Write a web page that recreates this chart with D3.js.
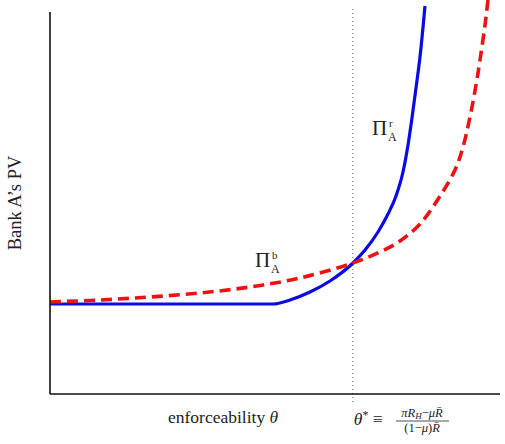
<!DOCTYPE html>
<html>
<head>
<meta charset="utf-8">
<script src="https://cdn.jsdelivr.net/npm/d3@7"></script>
<style>
  body { margin: 0; background: #fff; }
  text { font-family: "Liberation Serif", "Times New Roman", "DejaVu Serif", serif; }
</style>
</head>
<body>
<div id="body"></div>
<script>
// enforceability theta (0..1) and Bank A's PV (0..1)
var thetaStar = 0.673;

var repoTheta = [0, 0.4956, 0.5333, 0.5778, 0.6222, 0.6733, 0.7, 0.7289, 0.7511, 0.7689, 0.7844, 0.7956, 0.8044, 0.8133, 0.8222, 0.8333];
var repoPV = [0.2308, 0.2308, 0.241, 0.2615, 0.2897, 0.3359, 0.3692, 0.4154, 0.4615, 0.5077, 0.5692, 0.6385, 0.7077, 0.7846, 0.8641, 0.9949];

var bondTheta = [0, 0.1111, 0.2222, 0.3333, 0.4444, 0.5556, 0.6733, 0.7333, 0.7778, 0.8222, 0.8667, 0.9, 0.9178, 0.9333, 0.9467, 0.9556, 0.9667, 0.9733];
var bondPV = [0.2359, 0.241, 0.2487, 0.259, 0.2744, 0.2974, 0.3359, 0.3641, 0.3923, 0.4359, 0.5077, 0.5744, 0.6333, 0.7103, 0.7923, 0.8564, 0.9462, 1.0103];

var width = 505;
var height = 444;
var textColor = "#222";

var svg = d3
  .select("#body")
  .append("svg")
  .attr("width", width)
  .attr("height", height);

var xScale = d3.scaleLinear().domain([0, 1]).range([50, 500]);
var yScale = d3.scaleLinear().domain([0, 1]).range([394, 4]);

function makeLine(curve) {
  return d3
    .line()
    .x(function (d) { return xScale(d[0]); })
    .y(function (d) { return yScale(d[1]); })
    .curve(curve);
}

var repo = repoTheta.map(function (t, i) { return [t, repoPV[i]]; });
var bond = bondTheta.map(function (t, i) { return [t, bondPV[i]]; });

// clip to the plot so curves stop at the top edge
svg.append("clipPath").attr("id", "clip")
  .append("rect")
  .attr("x", xScale(0))
  .attr("y", 0)
  .attr("width", xScale(1) - xScale(0))
  .attr("height", yScale(0));

// dotted theta* line
svg.append("line")
  .attr("x1", xScale(thetaStar))
  .attr("x2", xScale(thetaStar))
  .attr("y1", 9)
  .attr("y2", 405)
  .attr("stroke", "#555")
  .attr("stroke-width", 1)
  .attr("stroke-dasharray", "1,3");

var plot = svg.append("g").attr("clip-path", "url(#clip)");

plot.append("path")
  .datum(repo)
  .attr("d", makeLine(d3.curveMonotoneX))
  .attr("fill", "none")
  .attr("stroke", "#0a0ae6")
  .attr("stroke-width", 3.2);

plot.append("path")
  .datum(bond)
  .attr("d", makeLine(d3.curveCatmullRom.alpha(0.5)))
  .attr("fill", "none")
  .attr("stroke", "#ee1111")
  .attr("stroke-width", 3.6)
  .attr("stroke-dasharray", "11,6");

// axes (plain lines, no ticks)
svg.append("line")
  .attr("x1", xScale(0)).attr("x2", xScale(0))
  .attr("y1", 12).attr("y2", yScale(0))
  .attr("stroke", "#111").attr("stroke-width", 1.6);

svg.append("line")
  .attr("x1", xScale(0)).attr("x2", xScale(1))
  .attr("y1", yScale(0)).attr("y2", yScale(0))
  .attr("stroke", "#111").attr("stroke-width", 1.6);

// curve labels: Pi with stacked super/subscript
function piLabel(x, y, sup) {
  svg.append("text")
    .attr("x", x).attr("y", y)
    .attr("font-size", 21)
    .attr("fill", textColor)
    .text("Π");
  svg.append("text")
    .attr("x", x + 17).attr("y", y - 8)
    .attr("font-size", 11)
    .attr("fill", textColor)
    .text(sup);
  svg.append("text")
    .attr("x", x + 16).attr("y", y + 6)
    .attr("font-size", 12)
    .attr("fill", textColor)
    .text("A");
}
piLabel(255, 267, "b");
piLabel(372, 135, "r");

// axis titles
svg.append("text")
  .attr("transform", "translate(21,203) rotate(-90)")
  .attr("text-anchor", "middle")
  .attr("font-size", 18.5)
  .attr("fill", textColor)
  .text("Bank A’s PV");

var xl = svg.append("text")
  .attr("x", 168)
  .attr("y", 423)
  .attr("font-size", 17.5)
  .attr("fill", textColor);
xl.append("tspan").text("enforceability ");
xl.append("tspan").attr("font-style", "italic").text("θ");

// theta* definition
var ts = svg.append("text")
  .attr("x", xScale(thetaStar) + 1)
  .attr("y", 425)
  .attr("font-size", 17.5)
  .attr("fill", textColor);
ts.append("tspan").attr("font-style", "italic").text("θ");
ts.append("tspan").attr("font-size", 12).attr("dy", -6).text("*");
ts.append("tspan").attr("dy", 6).text(" ≡");

var fx = 422;
var num = svg.append("text")
  .attr("x", fx)
  .attr("y", 417)
  .attr("text-anchor", "middle")
  .attr("font-size", 12.5)
  .attr("fill", textColor);
num.append("tspan").attr("font-style", "italic").text("πR");
num.append("tspan").attr("font-style", "italic").attr("font-size", 9).attr("dy", 2).text("H");
num.append("tspan").attr("dy", -2).text("−");
num.append("tspan").attr("font-style", "italic").text("μR̄");

svg.append("line")
  .attr("x1", fx - 26).attr("x2", fx + 27)
  .attr("y1", 421).attr("y2", 421)
  .attr("stroke", textColor).attr("stroke-width", 0.8);

var den = svg.append("text")
  .attr("x", fx)
  .attr("y", 432)
  .attr("text-anchor", "middle")
  .attr("font-size", 12.5)
  .attr("fill", textColor);
den.append("tspan").text("(1−");
den.append("tspan").attr("font-style", "italic").text("μ");
den.append("tspan").text(")");
den.append("tspan").attr("font-style", "italic").text("R̄");
</script>
</body>
</html>
